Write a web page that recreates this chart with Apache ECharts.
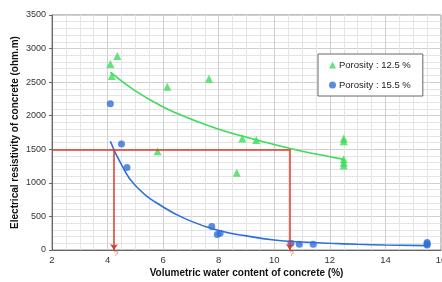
<!DOCTYPE html>
<html>
<head>
    <meta charset="utf-8">
    <title>Resistivity vs water content</title>
    <script src="https://cdn.jsdelivr.net/npm/echarts@6/dist/echarts.min.js"></script>
    <style>
        html,body{
            height:100%;
            width:100%;
            margin:0;
            padding:0;
            background:#fff;
        }
        #chart{
            width:442px;
            height:282px;
        }
    </style>
</head>
<body>
<div id="chart"></div>
<script>
    // measured points, porosity 12.5 %
    var greenX = [4.1, 4.15, 4.35, 5.8, 6.15, 7.65, 8.65, 8.85, 9.35, 12.5, 12.5, 12.5, 12.5, 12.5];
    var greenY = [2770, 2590, 2890, 1470, 2430, 2550, 1150, 1660, 1640, 1660, 1620, 1350, 1300, 1260];
    // measured points, porosity 15.5 %
    var blueX = [4.1, 4.5, 4.7, 7.75, 7.95, 8.05, 10.6, 10.9, 11.4, 15.5, 15.5, 15.5];
    var blueY = [2180, 1580, 1230, 350, 230, 250, 100, 85, 85, 110, 90, 75];
    // trend curves
    var fitGreenX = [4.1, 5, 6, 7, 8, 9, 10, 11, 12, 12.5];
    var fitGreenY = [2650, 2370, 2130, 1950, 1800, 1680, 1570, 1470, 1390, 1350];
    var fitBlueX = [4.1, 4.5, 5, 6, 7, 8, 9, 10, 11, 12, 13, 14, 15.5];
    var fitBlueY = [1620, 1270, 960, 640, 430, 290, 210, 150, 120, 100, 85, 75, 65];
    // red guide lines
    var guideY = 1500;
    var guideLeftX = 4.23;
    var guideRightX = 10.56;
    var legendNames = ['Porosity : 12.5 %', 'Porosity : 15.5 %'];

    function pairs(xs, ys) {
        var out = [];
        for (var i = 0; i < xs.length; i++) out.push([xs[i], ys[i]]);
        return out;
    }

    var GREEN = '#3ddc5a', BLUE = '#2f6fd8', RED = '#e0392a';
    var font = '"Liberation Sans", Arial, sans-serif';

    var myChart = echarts.init(document.getElementById('chart'));
    var option = {
        animation: false,
        textStyle: {fontFamily: font},
        grid: {
            left: 52, right: 1, top: 15, bottom: 32,
            outerBoundsMode: 'none',
            show: true, borderColor: '#888', borderWidth: 1
        },
        legend: {
            data: [
                {name: legendNames[0], icon: 'triangle'},
                {name: legendNames[1], icon: 'circle'}
            ],
            orient: 'vertical',
            left: 318, top: 54,
            padding: [6, 12, 6, 11],
            itemGap: 10,
            itemWidth: 7, itemHeight: 7,
            borderColor: '#666', borderWidth: 1,
            backgroundColor: '#fff',
            textStyle: {fontSize: 9.5, color: '#222', padding: [0, 0, 0, -2]}
        },
        xAxis: {
            type: 'value',
            min: 2, max: 16, interval: 2,
            name: 'Volumetric water content of concrete (%)',
            nameLocation: 'middle', nameGap: 18,
            nameMoveOverlap: false,
            nameTextStyle: {fontSize: 10, fontWeight: 'bold', color: '#111'},
            axisLine: {show: true, lineStyle: {color: '#666'}},
            axisTick: {show: false},
            axisLabel: {fontSize: 9.5, color: '#333', margin: 5, showMaxLabel: true},
            splitLine: {show: true, lineStyle: {color: '#cfcfcf'}},
            minorSplitLine: {show: true, lineStyle: {color: '#e4e4e4'}},
            minorTick: {show: false, splitNumber: 4}
        },
        yAxis: {
            type: 'value',
            min: 0, max: 3500, interval: 500,
            name: 'Electrical resistivity of concrete (ohm.m)',
            nameLocation: 'middle', nameGap: 32,
            nameMoveOverlap: false,
            nameTextStyle: {fontSize: 10, fontWeight: 'bold', color: '#111'},
            axisLine: {show: true, lineStyle: {color: '#666'}},
            axisTick: {show: true, length: 3, lineStyle: {color: '#666'}},
            axisLabel: {fontSize: 9, color: '#333', margin: 6, formatter: function (v) { return String(v); }},
            splitLine: {show: true, lineStyle: {color: '#cfcfcf'}},
            minorSplitLine: {show: true, lineStyle: {color: '#e4e4e4'}},
            minorTick: {show: false, splitNumber: 5}
        },
        series: [
            {
                name: 'guides',
                type: 'line',
                data: [],
                silent: true,
                markLine: {
                    silent: true,
                    symbol: ['none', 'arrow'],
                    symbolSize: 6,
                    lineStyle: {color: RED, width: 1.5, type: 'solid'},
                    label: {show: false},
                    data: [
                        [{coord: [2, guideY], symbol: 'none'}, {coord: [guideRightX, guideY], symbol: 'none'}],
                        [{coord: [guideLeftX, guideY]}, {coord: [guideLeftX, 0]}],
                        [{coord: [guideRightX, guideY]}, {coord: [guideRightX, 0]}]
                    ]
                }
            },
            {
                // the red question marks under the guide arrows
                name: 'marks',
                type: 'scatter',
                symbolSize: 0,
                silent: true,
                z: 5,
                label: {
                    show: true, position: 'bottom', distance: 0,
                    formatter: '?', color: RED, fontSize: 8, offset: [2, 0]
                },
                data: [[guideLeftX, 0], [guideRightX, 0]]
            },
            {
                name: 'fit12',
                type: 'line',
                smooth: true,
                showSymbol: false,
                silent: true,
                lineStyle: {color: GREEN, width: 1.6},
                data: pairs(fitGreenX, fitGreenY)
            },
            {
                name: 'fit15',
                type: 'line',
                smooth: true,
                showSymbol: false,
                silent: true,
                lineStyle: {color: BLUE, width: 1.6},
                data: pairs(fitBlueX, fitBlueY)
            },
            {
                name: legendNames[0],
                type: 'scatter',
                symbol: 'triangle',
                symbolSize: 8,
                itemStyle: {color: GREEN},
                data: pairs(greenX, greenY)
            },
            {
                name: legendNames[1],
                type: 'scatter',
                symbol: 'circle',
                symbolSize: 7,
                itemStyle: {color: BLUE},
                data: pairs(blueX, blueY)
            }
        ]
    };
    myChart.setOption(option);
</script>
</body>
</html>
